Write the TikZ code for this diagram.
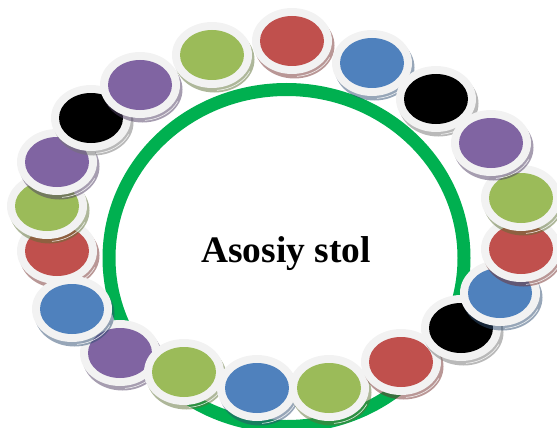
\documentclass[tikz,border=0pt]{standalone}
\usepackage{fontspec}
\setmainfont{Liberation Serif}
\definecolor{cr}{HTML}{C0504D}
\definecolor{cg}{HTML}{9BBB59}
\definecolor{cb}{HTML}{4F81BD}
\definecolor{cp}{HTML}{8064A2}
\definecolor{ck}{HTML}{000000}
\definecolor{srim}{HTML}{F2F2F2}
\definecolor{table}{HTML}{00B050}
\colorlet{sr}{cr!60!black}
\colorlet{sg}{cg!60!black}
\colorlet{sb}{cb!60!black}
\colorlet{sp}{cp!60!black}
\colorlet{sk}{black!55}
\tikzset{
  rimfill/.style={fill=srim},
  shadowfill/.style={opacity=.5},
  glint/.style={draw=white,line width=.6pt,opacity=.85},
  tablering/.style={draw=table,line width=13pt},
  title/.style={font=\fontsize{37.4}{37.4}\selectfont\bfseries,text=black,inner sep=0pt,anchor=base}
}
% #1 x, #2 y, #3 disc colour, #4 shadow colour
\newcommand{\seat}[4]{%
  \fill[shadowfill,fill=#4] (#1+2.5,#2+4.5) ellipse [x radius=40,y radius=33];
  \draw[glint] ({#1+1.5+40*cos(25)},{#2+2.5+33*sin(25)}) arc [start angle=25,end angle=85,x radius=40,y radius=33];
  \fill[rimfill] (#1,#2) ellipse [x radius=40,y radius=33];
  \fill[fill=#3] (#1,#2) ellipse [x radius=32,y radius=25];
}
\begin{document}
\begin{tikzpicture}[x=1pt,y=-1pt]
\useasboundingbox (0,0) rectangle (557,428);
\draw[tablering] (286.5,258) ellipse [x radius=177.5,y radius=168.5];
\node[title] (t) at (286,262) {Asosiy stol};
\seat{120}{353}{cp}{sp}
\seat{184}{372}{cg}{sg}
\seat{257}{388}{cb}{sb}
\seat{329}{388}{cg}{sg}
\seat{401}{362}{cr}{sr}
\seat{461}{328}{ck}{sk}
\seat{500}{293}{cb}{sb}
\seat{521}{249}{cr}{sr}
\seat{521}{198}{cg}{sg}
\seat{57}{251}{cr}{sr}
\seat{72}{309}{cb}{sb}
\seat{47}{206}{cg}{sg}
\seat{57}{162}{cp}{sp}
\seat{91}{118}{ck}{sk}
\seat{140}{85}{cp}{sp}
\seat{212}{55}{cg}{sg}
\seat{292}{41}{cr}{sr}
\seat{372}{63}{cb}{sb}
\seat{436}{99}{ck}{sk}
\seat{491}{143}{cp}{sp}
\end{tikzpicture}
\end{document}
